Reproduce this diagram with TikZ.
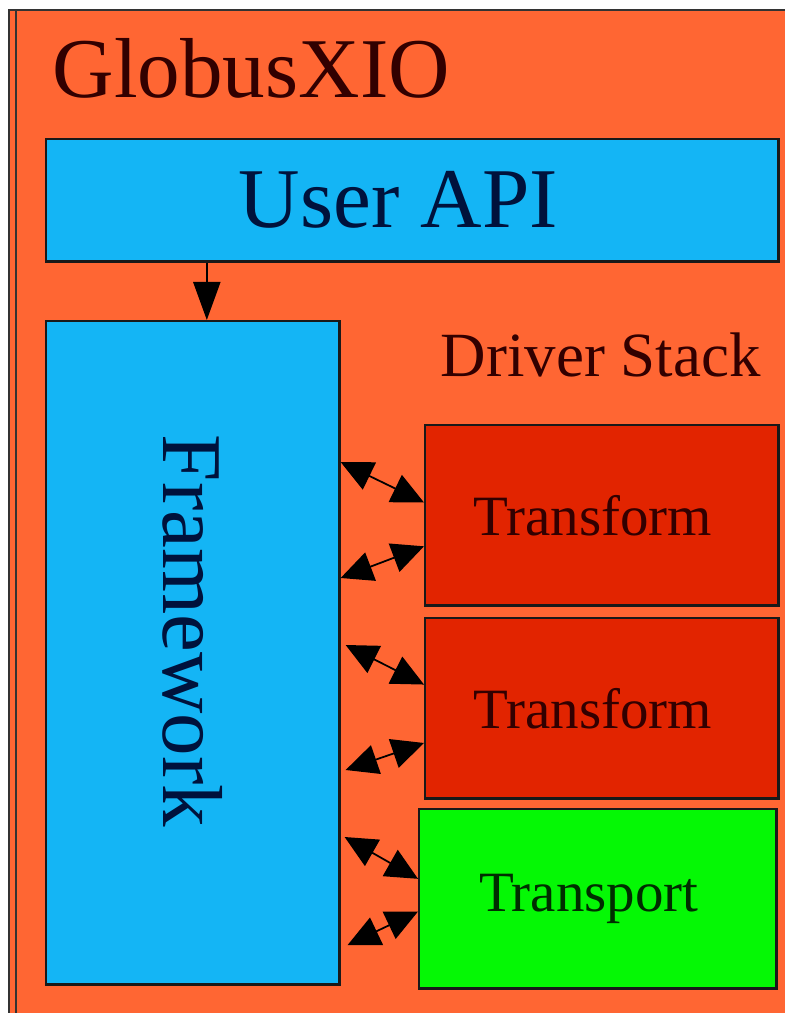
\documentclass[tikz,border=0pt]{standalone}
\usepackage{fontspec}
\setmainfont{Liberation Serif}
\usetikzlibrary{arrows.meta,calc}

\definecolor{xioorange}{RGB}{255,102,51}
\definecolor{apiblue}{RGB}{20,181,245}
\definecolor{xformred}{RGB}{226,36,0}
\definecolor{xportgreen}{RGB}{5,248,5}
\definecolor{inkred}{RGB}{50,0,0}
\definecolor{inkblue}{RGB}{0,18,60}
\definecolor{inkgreen}{RGB}{0,45,0}

\begin{document}
\begin{tikzpicture}[x=0.01cm, y=-0.01cm,
  box/.style = {draw=black!90, line width=0.7pt, inner sep=0pt, anchor=north west},
  api/.style = {box, fill=apiblue, text=inkblue},
  xform/.style = {box, fill=xformred, text=inkred, minimum width=3.53cm, minimum height=1.80cm,
                  font=\fontsize{16.2}{19}\selectfont},
  xport/.style = {box, fill=xportgreen, text=inkgreen, minimum width=3.57cm, minimum height=1.79cm,
                  font=\fontsize{16.2}{19}\selectfont},
  big/.style = {font=\fontsize{24.2}{28}\selectfont},
  link/.style = {draw=black, line width=0.5pt, {Triangle[length=0.32cm, width=0.3cm]}-{Triangle[length=0.32cm, width=0.3cm]}},
  down/.style = {draw=black, line width=0.6pt, -{Triangle[length=0.38cm, width=0.27cm]}},
  ]
  \useasboundingbox (0,0) rectangle (785,1013);
  \fill[white] (0,0) rectangle (785,1013);

  % outer GlobusXIO frame
  \fill[xioorange] (9,10) rectangle (785,1013);
  \draw[black!80, line width=0.6pt] (9,1013) -- (9,10) -- (785,10);
  \draw[black!80, line width=0.6pt] (16,1013) -- (16,10);
  \node[big, text=inkred, anchor=base west, inner sep=0pt] (title) at (52,98) {GlobusXIO};

  % user api and framework
  \node[api, big, minimum width=7.32cm, minimum height=1.22cm] (api) at (45,138) {\hspace*{-0.28cm}User API};
  \node[api, minimum width=2.93cm, minimum height=6.63cm] (fw) at (45,320) {};
  \node[big, text=inkblue, rotate=-90] (fwtext) at ($(fw.center)+(0,-22)$) {Framework};
  \draw[down] ([xshift=0.14cm]api.south -| fw.north) -- ([xshift=0.14cm]fw.north);

  % driver stack
  \node[text=inkred, anchor=base west, inner sep=0pt, font=\fontsize{17.9}{21}\selectfont] (stack) at (440,377) {Driver Stack};
  \node[xform] (t1) at (424,424) {\hspace*{-0.18cm}Transform};
  \node[xform] (t2) at (424,617) {\hspace*{-0.18cm}Transform};
  \node[xport] (tp) at (418,808) {\hspace*{-0.18cm}Transport};

  % double arrows between framework and drivers
  \draw[link] (fw.east |- 0,462) -- ($(t1.north west)!.43!(t1.south west)$);
  \draw[link] (fw.east |- 0,578) -- ($(t1.north west)!.67!(t1.south west)$);
  \draw[link] ([xshift=0.05cm]fw.east |- 0,645) -- ($(t2.north west)!.37!(t2.south west)$);
  \draw[link] ([xshift=0.05cm]fw.east |- 0,770) -- ($(t2.north west)!.69!(t2.south west)$);
  \draw[link] ([xshift=0.04cm]fw.east |- 0,837) -- ($(tp.north west)!.39!(tp.south west)$);
  \draw[link] ([xshift=0.07cm]fw.east |- 0,945) -- ($(tp.north west)!.57!(tp.south west)$);
\end{tikzpicture}
\end{document}
